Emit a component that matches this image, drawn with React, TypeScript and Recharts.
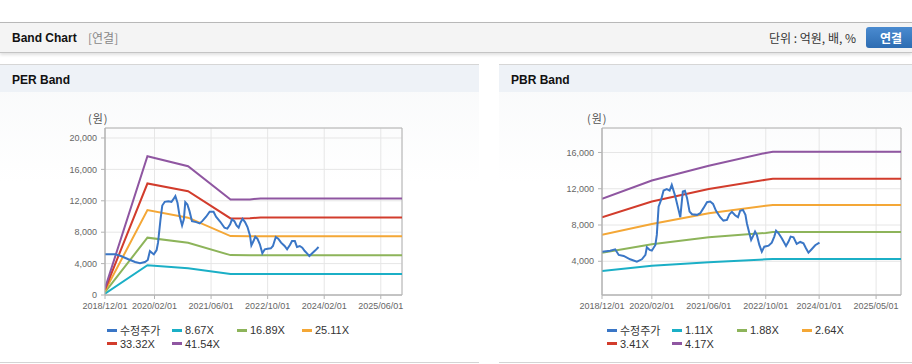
import React from "react";
import { LineChart, Line, XAxis, YAxis, CartesianGrid, ReferenceArea } from "recharts";

// ---------- PER band data ----------
const perBandMonths = [0, 12, 23.5, 35.5, 41, 44, 84];
const per867 = [180, 3800, 3420, 2680, 2670, 2670, 2670];
const per1689 = [355, 7300, 6650, 5080, 5070, 5070, 5070];
const per2511 = [530, 10810, 9850, 7500, 7480, 7480, 7480];
const per3332 = [700, 14200, 13220, 9750, 9760, 9880, 9880];
const per4154 = [870, 17670, 16400, 12170, 12170, 12300, 12300];

const perPriceMonths = [0, 2.9, 4.5, 6.6, 8.5, 9.9, 11.3, 12.1, 12.7, 13.4, 13.8, 14.6, 15.0, 15.7, 16.2, 16.9, 17.9, 18.8, 19.3, 19.9, 20.5, 21.1, 21.8, 22.3, 22.7, 23.3, 23.9, 24.6, 25.8, 26.8, 27.5, 28.6, 29.6, 30.7, 31.4, 32.6, 33.8, 34.6, 35.4, 35.9, 36.6, 37.2, 37.8, 38.3, 38.9, 39.6, 40.3, 41.0, 41.4, 42.0, 42.5, 43.1, 43.8, 44.5, 45.2, 46.0, 46.9, 47.5, 48.3, 49.0, 49.8, 50.8, 51.5, 52.3, 52.9, 53.7, 54.3, 55.1, 55.8, 56.5, 57.2, 57.8, 58.6, 59.5, 60.4];
const perPriceValues = [5180, 5180, 4970, 4550, 4200, 4040, 4200, 4460, 5600, 5310, 5180, 5730, 6670, 9630, 11400, 11870, 11950, 11870, 12170, 12590, 11750, 10050, 8860, 9630, 11830, 11530, 10680, 9410, 9280, 9120, 9410, 9970, 10600, 10600, 9970, 9330, 8570, 8450, 8990, 9630, 9410, 8860, 8570, 9200, 9710, 9280, 8650, 7590, 6320, 6870, 7430, 7170, 6450, 5310, 5820, 5900, 5940, 6240, 7380, 7170, 6670, 6240, 5820, 6360, 6870, 6870, 6110, 6240, 6030, 5600, 5270, 4970, 5310, 5690, 6110];

const perXTicks = [0, 14, 30, 46, 62, 78];
const perXLabels = ["2018/12/01", "2020/02/01", "2021/06/01", "2022/10/01", "2024/02/01", "2025/06/01"];
const perYTicks = [0, 4000, 8000, 12000, 16000, 20000];

// ---------- PBR band data ----------
const pbrBandMonths = [0, 14, 30, 46, 48, 84];
const pbr111 = [2930, 3510, 3890, 4210, 4240, 4240];
const pbr188 = [4950, 5880, 6650, 7120, 7220, 7220];
const pbr264 = [6910, 8120, 9300, 10130, 10210, 10210];
const pbr341 = [8860, 10590, 11960, 12990, 13090, 13090];
const pbr417 = [10880, 12910, 14530, 15950, 16080, 16080];

const pbrPriceMonths = [0, 2.3, 3.7, 4.7, 6.1, 7.9, 9.8, 11.2, 12.2, 12.6, 13.4, 14.0, 15.0, 15.4, 15.9, 16.6, 17.3, 18.2, 19.0, 19.6, 20.6, 21.5, 22.0, 22.7, 23.3, 23.9, 24.6, 25.3, 26.7, 27.6, 28.5, 29.5, 30.4, 31.2, 32.0, 33.2, 34.1, 35.1, 35.8, 36.5, 37.4, 38.2, 38.8, 39.6, 40.3, 40.7, 41.4, 41.9, 42.6, 43.0, 43.5, 44.2, 44.9, 45.6, 46.8, 47.7, 48.4, 48.9, 49.6, 50.5, 51.7, 52.4, 53.0, 53.8, 54.7, 55.7, 56.6, 57.3, 58.0, 58.9, 59.9, 61.1];
const pbrPriceValues = [5060, 5170, 5320, 4700, 4590, 4220, 3960, 4220, 4700, 5550, 5250, 5170, 5800, 6910, 10030, 10770, 11800, 11960, 11800, 12430, 11140, 9670, 8860, 11690, 11770, 10960, 9480, 9190, 9120, 9300, 9860, 10520, 10590, 10330, 9590, 8860, 8490, 8560, 9190, 9450, 9080, 8860, 9560, 9670, 9120, 8200, 7090, 6350, 6910, 7270, 6910, 5800, 5060, 5610, 5720, 6060, 6720, 7380, 7090, 6540, 5690, 6170, 6720, 6650, 5910, 6130, 5990, 5440, 4950, 5330, 5770, 6060];

const pbrXTicks = [0, 14, 30, 46, 61, 77];
const pbrXLabels = ["2018/12/01", "2020/02/01", "2021/06/01", "2022/10/01", "2024/01/01", "2025/05/01"];
const pbrYTicks = [4000, 8000, 12000, 16000];

const perLegend = ["수정주가", "8.67X", "16.89X", "25.11X", "33.32X", "41.54X"];
const pbrLegend = ["수정주가", "1.11X", "1.88X", "2.64X", "3.41X", "4.17X"];

const COLORS = ["#3a76c6", "#1bafc6", "#8db45a", "#f4a736", "#d23c2c", "#8f56a1"];
const FONT = '"Liberation Sans", Arial, "Noto Sans CJK KR", sans-serif';
const KFONT = '"Noto Sans CJK KR", "Liberation Sans", sans-serif';

type ChartProps = {
  months: number[];
  bands: number[][];
  priceM: number[];
  priceV: number[];
  xTicks: number[];
  xLabels: string[];
  yTicks: number[];
  yDomain: [number, number];
  width: number;
  yAxisWidth: number;
  marginRight: number;
};

function BandChart(p: ChartProps) {
  const bandData = p.months.map((m, i) => {
    const row: any = { m };
    p.bands.forEach((b, j) => (row["b" + j] = b[i]));
    return row;
  });
  const priceData = p.priceM.map((m, i) => ({ m, p: p.priceV[i] }));
  const fmt = (v: number) => {
    const i = p.xTicks.indexOf(v);
    return i >= 0 ? p.xLabels[i] : "";
  };
  return (
    <LineChart width={p.width} height={270} margin={{ top: 36, right: p.marginRight, bottom: 47, left: 0 }}>
      <CartesianGrid stroke="#e6e6e6" strokeWidth={1} />
      <XAxis
        type="number"
        dataKey="m"
        domain={[0, 84]}
        ticks={p.xTicks}
        tickFormatter={fmt}
        allowDataOverflow
        height={20}
        axisLine={{ stroke: "#b4b4b4" }}
        tickLine={{ stroke: "#b4b4b4" }}
        tickSize={4}
        tickMargin={4}
        interval={0}
        tick={{ fill: "#666", fontSize: 9, fontFamily: FONT }}
      />
      <YAxis
        type="number"
        domain={p.yDomain}
        ticks={p.yTicks}
        allowDataOverflow
        width={p.yAxisWidth}
        axisLine={{ stroke: "#b4b4b4" }}
        tickLine={{ stroke: "#b4b4b4" }}
        tickSize={4}
        tickMargin={4}
        interval={0}
        tickFormatter={(v: number) => v.toLocaleString("en-US")}
        tick={{ fill: "#666", fontSize: 9, fontFamily: FONT }}
      />
      <ReferenceArea x1={0} x2={84} y1={p.yDomain[0]} y2={p.yDomain[1]} fill="none" stroke="#b4b4b4" strokeWidth={1} ifOverflow="visible" />
      {p.bands.map((_, j) => (
        <Line
          key={j}
          data={bandData}
          dataKey={"b" + j}
          type="linear"
          stroke={COLORS[j + 1]}
          strokeWidth={2}
          dot={false}
          activeDot={false}
          isAnimationActive={false}
        />
      ))}
      <Line data={priceData} dataKey="p" type="linear" stroke={COLORS[0]} strokeWidth={2} dot={false} activeDot={false} isAnimationActive={false} />
    </LineChart>
  );
}

function LegendBlock({ labels, left, top }: { labels: string[]; left: number; top: number }) {
  return (
    <div style={{ position: "absolute", left, top, width: 300, height: 30 }}>
      {labels.map((l, i) => {
        const row = i < 4 ? 0 : 1;
        const col = i < 4 ? i : i - 4;
        return (
          <div key={i} style={{ position: "absolute", left: col * 65, top: row * 13.5, height: 14, display: "flex", alignItems: "center", whiteSpace: "nowrap" }}>
            <div style={{ width: 10, height: 3, background: COLORS[i], marginRight: 3 }} />
            <span style={{ fontSize: 11, color: "#333", fontFamily: i === 0 ? KFONT : FONT, lineHeight: "14px" }}>{l}</span>
          </div>
        );
      })}
    </div>
  );
}

function Panel({ left, width, title, children }: { left: number; width: number; title: string; children: React.ReactNode }) {
  return (
    <div style={{ position: "absolute", left, top: 64, width, height: 299, borderTop: "1px solid #d6d6d6", borderBottom: "1px solid #d4d4d4", boxSizing: "border-box", background: "linear-gradient(#f8f9fa, #ffffff 40%)" }}>
      <div style={{ position: "absolute", left: 0, top: 0, width, height: 27, background: "#eef2f7" }}>
        <span style={{ position: "absolute", left: 12, top: 8, fontSize: 12, fontWeight: "bold", color: "#111", fontFamily: FONT }}>{title}</span>
      </div>
      {children}
    </div>
  );
}

export default function App() {
  return (
    <div style={{ position: "absolute", left: 0, top: 0, width: 912, height: 364, background: "#fff", overflow: "hidden", fontFamily: FONT }}>
      {/* header */}
      <div style={{ position: "absolute", left: 0, top: 22, width: 912, height: 31, background: "#f4f4f4", borderTop: "1px solid #b8b8b8", borderBottom: "1px solid #c4c4c4", boxSizing: "border-box", boxShadow: "0 2px 3px rgba(0,0,0,0.12)" }}>
        <span style={{ position: "absolute", left: 12, top: 8, fontSize: 12, fontWeight: "bold", color: "#111" }}>Band Chart</span>
        <span style={{ position: "absolute", left: 88, top: 7, fontSize: 12, color: "#888", fontFamily: KFONT, lineHeight: "16px" }}>[연결]</span>
        <span style={{ position: "absolute", left: 769, top: 7, fontSize: 12, color: "#333", fontFamily: KFONT, lineHeight: "16px" }}>단위 : 억원, 배, %</span>
        <div style={{ position: "absolute", left: 866, top: 4, width: 52, height: 21, borderRadius: 3, background: "linear-gradient(#4a8bd0, #2d6cb2)", color: "#fff", fontSize: 12, fontWeight: "bold", fontFamily: KFONT, lineHeight: "21px", textIndent: 14 }}>연결</div>
      </div>

      <Panel left={0} width={479} title="PER Band">
        <div style={{ position: "absolute", left: 0, top: 27 }}>
          <BandChart
            months={perBandMonths}
            bands={[per867, per1689, per2511, per3332, per4154]}
            priceM={perPriceMonths}
            priceV={perPriceValues}
            xTicks={perXTicks}
            xLabels={perXLabels}
            yTicks={perYTicks}
            yDomain={[0, 21270]}
            width={479}
            yAxisWidth={105}
            marginRight={77}
          />
        </div>
        <span style={{ position: "absolute", left: 88, top: 45, fontSize: 11, color: "#555", fontFamily: KFONT, letterSpacing: 1 }}>(원)</span>
        <LegendBlock labels={perLegend} left={107} top={258} />
      </Panel>

      <Panel left={499} width={413} title="PBR Band">
        <div style={{ position: "absolute", left: 0, top: 27 }}>
          <BandChart
            months={pbrBandMonths}
            bands={[pbr111, pbr188, pbr264, pbr341, pbr417]}
            priceM={pbrPriceMonths}
            priceV={pbrPriceValues}
            xTicks={pbrXTicks}
            xLabels={pbrXLabels}
            yTicks={pbrYTicks}
            yDomain={[280, 18700]}
            width={413}
            yAxisWidth={103}
            marginRight={11}
          />
        </div>
        <span style={{ position: "absolute", left: 88, top: 45, fontSize: 11, color: "#555", fontFamily: KFONT, letterSpacing: 1 }}>(원)</span>
        <LegendBlock labels={pbrLegend} left={108} top={258} />
      </Panel>
    </div>
  );
}
